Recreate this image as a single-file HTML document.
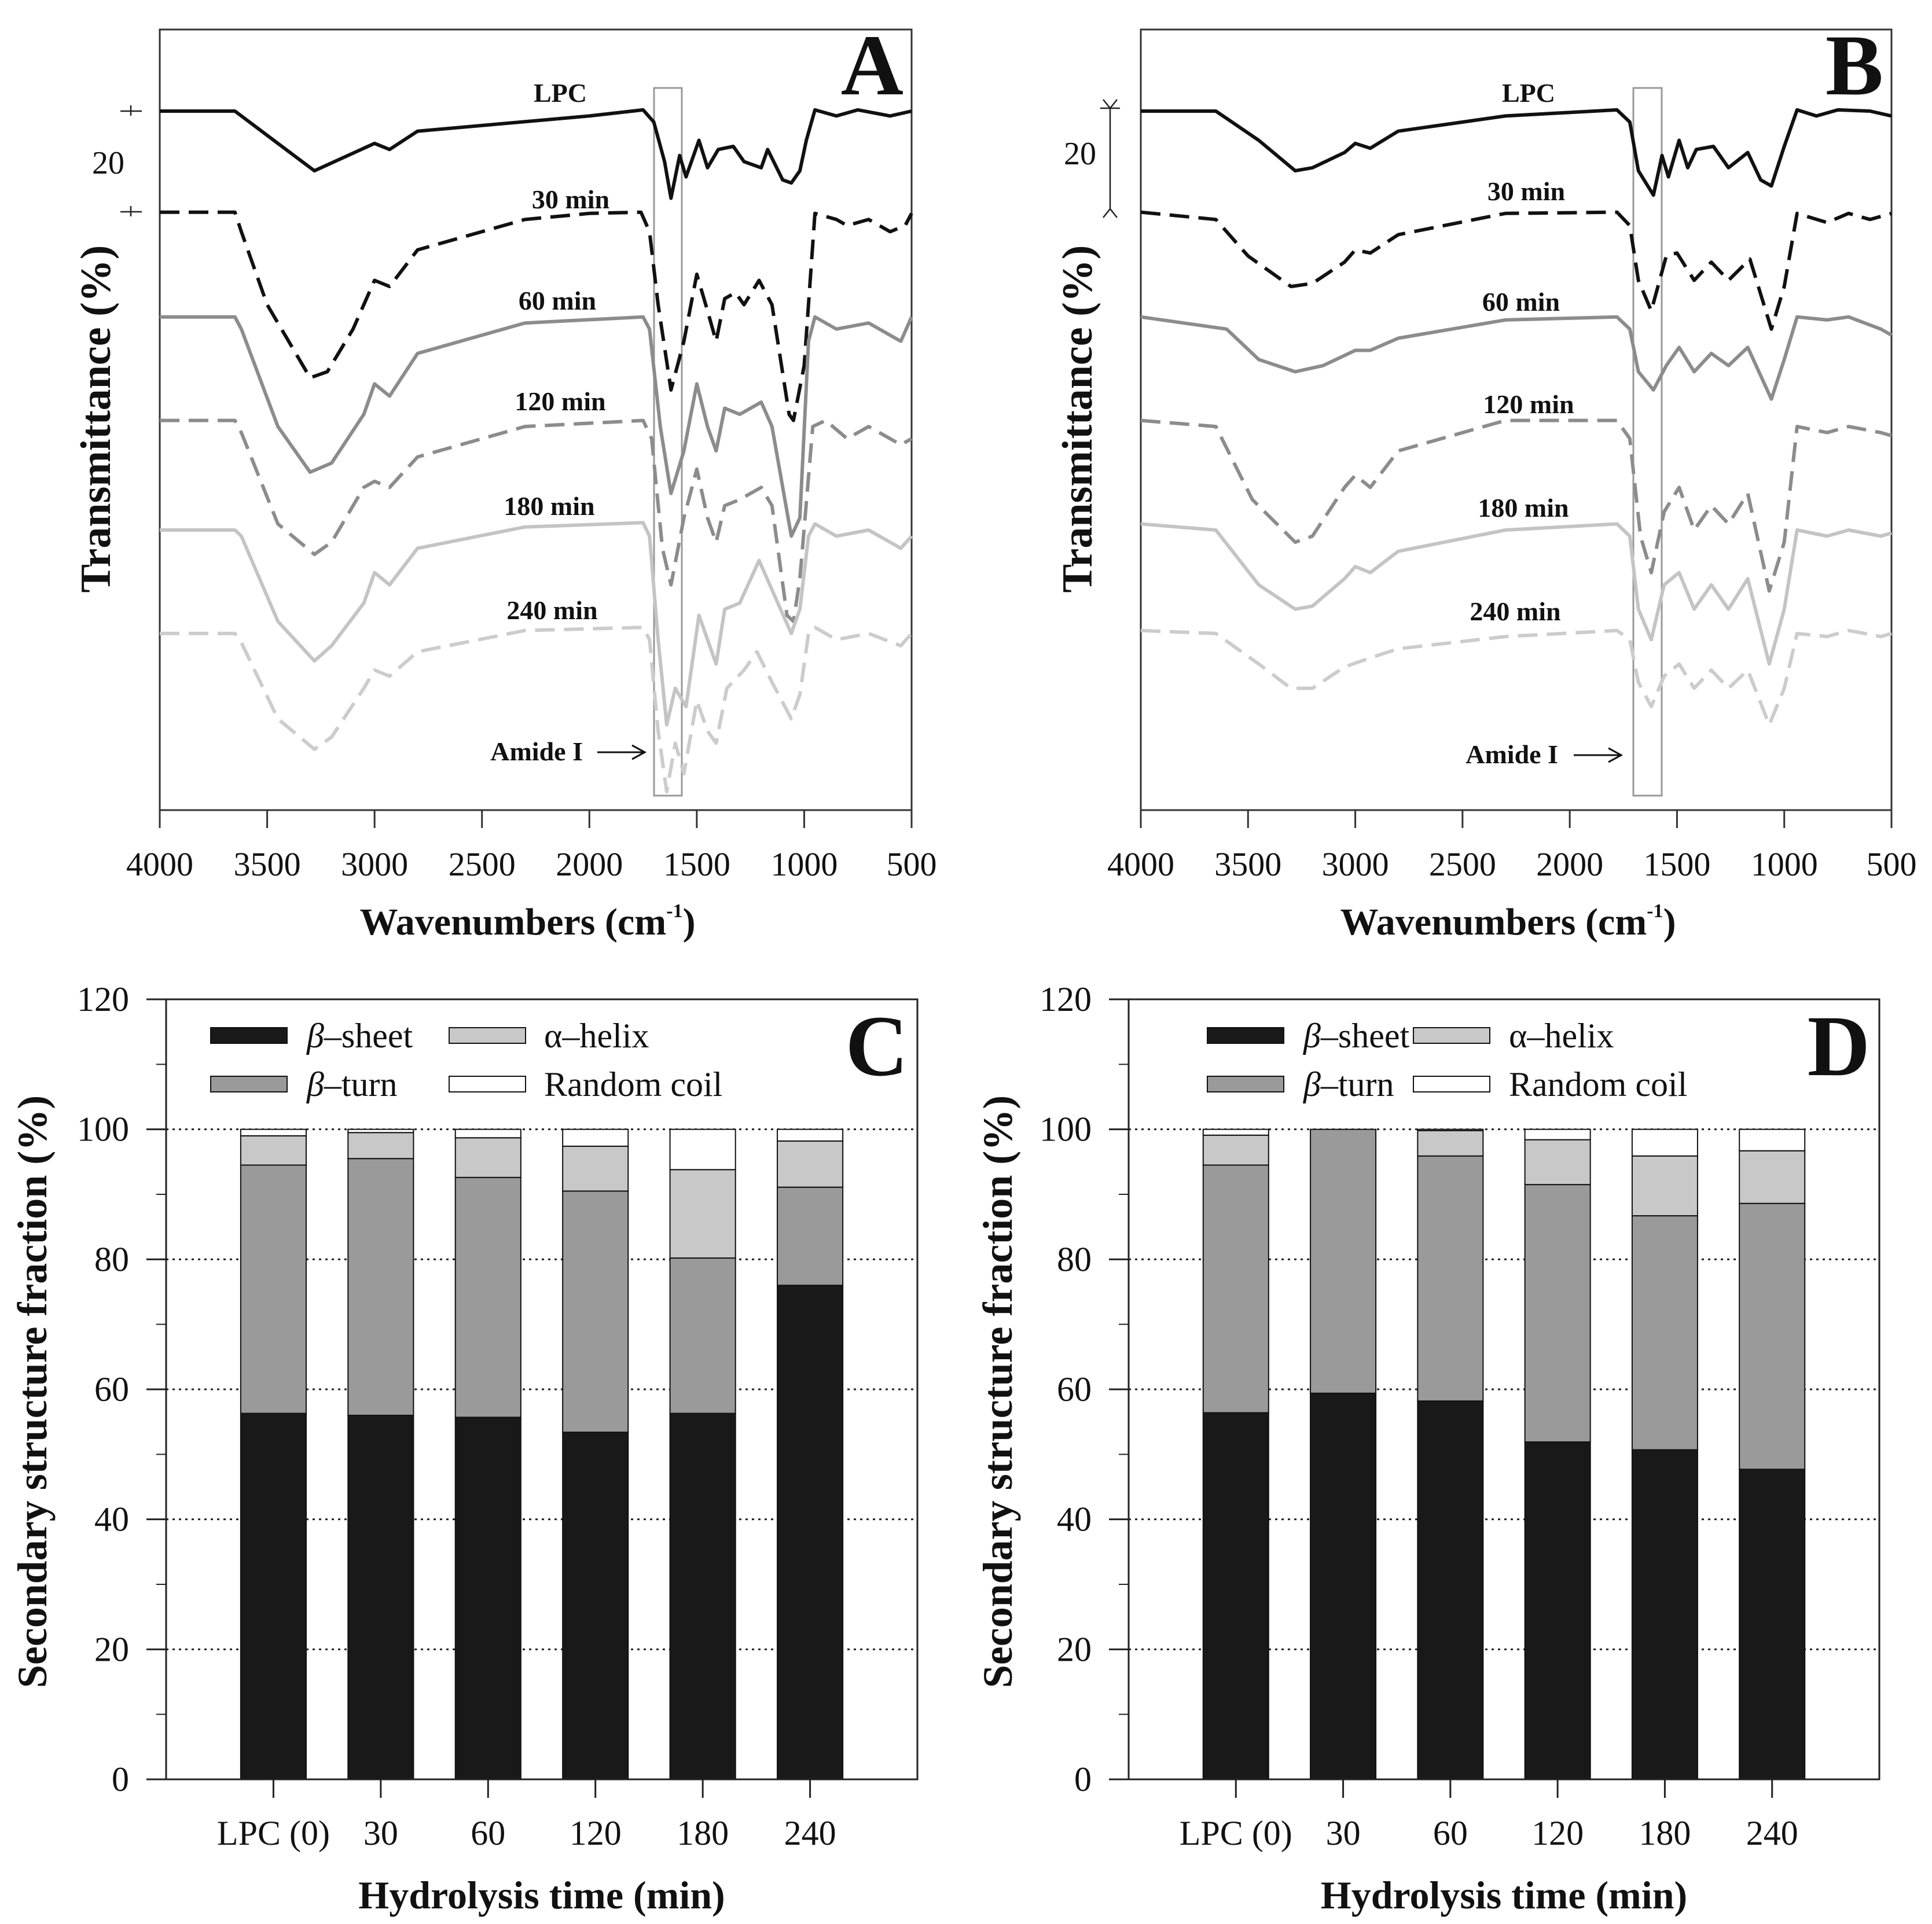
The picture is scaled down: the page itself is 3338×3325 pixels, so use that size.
<!DOCTYPE html>
<html>
<head>
<meta charset="utf-8">
<style>
html,body{margin:0;padding:0;background:#fff;}
svg{display:block;}
svg, text, tspan{font-family:"Liberation Serif","DejaVu Serif",serif;}
text{fill:#111;}
</style>
</head>
<body>
<svg id="fig" width="3338" height="3325" viewBox="0 0 3338 3325" xmlns="http://www.w3.org/2000/svg" font-family="Liberation Serif, serif">
<rect x="0" y="0" width="3338" height="3325" fill="#fff"/>
</svg>
<script>
// ---------- Panel A spectra (wavenumber, transmittance a.u.) ----------
const A_LPC_wn = [4000,3650,3450,3280,3000,2930,2800,2000,1750,1700,1650,1620,1580,1550,1490,1450,1400,1330,1280,1200,1170,1100,1060,1020,990,950,850,750,600,500];
const A_LPC_t  = [1148,1148,1095,1050,1095,1085,1115,1140,1150,1130,1065,1005,1075,1040,1100,1055,1085,1090,1065,1055,1085,1035,1030,1050,1100,1150,1140,1150,1140,1148];
const A_30_wn = [4000,3650,3620,3500,3300,3220,3100,3000,2930,2800,2300,2000,1760,1720,1680,1620,1560,1500,1450,1410,1370,1320,1280,1210,1150,1070,1050,1000,950,850,800,700,600,530,500];
const A_30_t  = [982,982,950,830,710,720,790,870,860,920,970,980,982,950,830,690,770,880,820,770,840,850,830,870,830,650,640,730,980,970,960,970,950,960,980];
const A_60_wn = [4000,3650,3620,3450,3300,3200,3050,3000,2930,2800,2300,1750,1720,1670,1620,1560,1500,1450,1410,1370,1300,1200,1150,1060,1020,980,950,850,700,550,500];
const A_60_t  = [810,810,790,630,555,570,650,700,680,750,800,810,790,630,520,590,700,630,590,660,650,670,630,450,480,770,810,790,800,770,810];
const A_120_wn = [4000,3650,3620,3450,3280,3200,3050,3000,2930,2800,2300,1750,1710,1660,1620,1560,1500,1450,1410,1370,1300,1200,1150,1080,1050,1020,960,900,800,700,550,500];
const A_120_t  = [640,640,620,470,420,440,530,540,530,580,630,640,610,430,370,480,560,480,440,500,510,530,500,320,310,380,630,640,610,630,600,610];
const A_180_wn = [4000,3650,3620,3450,3280,3200,3050,3000,2930,2800,2300,1750,1720,1680,1640,1600,1550,1490,1410,1370,1300,1210,1160,1060,1020,980,950,850,700,550,500];
const A_180_t  = [460,460,450,310,245,270,340,390,370,430,465,472,450,280,140,200,170,320,240,330,340,410,370,290,330,450,470,450,460,430,450];
const A_240_wn = [4000,3650,3620,3450,3280,3200,3050,3000,2930,2800,2300,1750,1720,1680,1640,1600,1560,1500,1450,1410,1360,1280,1220,1150,1060,1020,980,950,850,700,550,500];
const A_240_t  = [290,290,275,150,100,120,200,230,220,260,295,300,280,130,30,110,60,180,130,110,200,230,260,210,150,190,290,300,280,290,270,290];

// ---------- Panel B spectra ----------
const B_LPC_wn = [4000,3650,3450,3280,3200,3050,3000,2930,2800,2300,1780,1720,1680,1610,1570,1540,1490,1450,1410,1330,1260,1170,1110,1060,1000,940,850,750,600,500];
const B_LPC_t  = [1148,1148,1100,1050,1055,1080,1095,1087,1115,1140,1150,1130,1050,1010,1075,1040,1100,1055,1085,1090,1055,1080,1035,1025,1090,1150,1140,1150,1148,1140];
const B_30_wn = [4000,3650,3500,3300,3200,3050,3000,2930,2800,2300,1780,1720,1680,1620,1550,1500,1420,1340,1260,1160,1060,1000,940,800,700,600,500];
const B_30_t  = [982,970,910,860,865,900,920,915,945,980,982,960,870,820,910,915,870,900,870,905,790,860,980,965,980,970,980];
const B_60_wn = [4000,3600,3450,3280,3150,3000,2930,2800,2300,1780,1720,1680,1610,1550,1490,1420,1340,1260,1170,1060,1000,940,800,700,550,500];
const B_60_t  = [810,790,740,720,730,755,755,775,805,810,790,720,690,730,760,720,750,730,760,675,740,810,805,810,790,780];
const B_120_wn = [4000,3650,3480,3280,3200,3050,3000,2930,2800,2300,1780,1720,1670,1620,1560,1490,1420,1340,1260,1170,1070,1000,940,800,700,550,500];
const B_120_t  = [640,630,510,440,450,530,550,530,590,640,640,610,450,390,490,530,460,500,470,520,360,440,630,620,630,620,615];
const B_180_wn = [4000,3650,3450,3280,3200,3050,3000,2930,2800,2300,1780,1720,1680,1620,1560,1490,1420,1340,1260,1170,1070,1000,940,800,700,550,500];
const B_180_t  = [470,460,370,330,335,380,400,390,425,460,470,450,330,280,370,390,330,370,330,380,240,330,460,450,460,450,455];
const B_240_wn = [4000,3650,3450,3300,3200,3050,2930,2800,2300,1780,1720,1680,1620,1560,1490,1420,1340,1260,1170,1070,1000,940,800,700,550,500];
const B_240_t  = [295,290,240,200,200,235,250,265,285,295,280,210,170,220,240,200,230,200,230,140,200,290,285,295,285,290];

const wnTicks = [4000,3500,3000,2500,2000,1500,1000,500];

// ---------- Panels C / D stacked bars ----------
const categories = ["LPC (0)","30","60","120","180","240"];
const C_sheet = [56.3,56.0,55.7,53.4,56.3,76.0];
const C_turn  = [38.2,39.5,36.9,37.1,23.9,15.1];
const C_helix = [4.5,4.0,6.1,6.9,13.6,7.1];
const C_coil  = [1.0,0.5,1.3,2.6,6.2,1.8];
const D_sheet = [56.4,59.4,58.2,51.9,50.7,47.7];
const D_turn  = [38.1,40.6,37.7,39.6,36.0,40.9];
const D_helix = [4.6,0.0,3.9,6.9,9.2,8.1];
const D_coil  = [0.9,0.0,0.2,1.6,4.1,3.3];
const pctTicks = [0,20,40,60,80,100,120];

const NS = "http://www.w3.org/2000/svg";
const svg = document.getElementById("fig");
function mk(tag, attrs, parent){
  const e = document.createElementNS(NS, tag);
  for (const k in attrs) e.setAttribute(k, attrs[k]);
  (parent||svg).appendChild(e);
  return e;
}
function txt(x,y,s,size,opts,parent){
  const e = mk("text",{x:x,y:y,"font-size":size,"font-family":"Liberation Serif, serif","text-anchor":(opts&&opts.anchor)||"middle","font-weight":(opts&&opts.bold)?"bold":"normal"},parent);
  if (opts && opts.transform) e.setAttribute("transform",opts.transform);
  e.textContent = s;
  return e;
}

// ---------- Spectra panels ----------
function spectraPanel(P){
  const g = mk("g",{});
  
  
  const xS = w => P.x0 + (4000 - w) / 3500 * (P.x1 - P.x0);
  const yS = v => P.y1 - v * ((P.y1 - P.y0) / 1282);
  const fr = mk("rect",{x:P.x0,y:P.y0,width:P.x1-P.x0,height:P.y1-P.y0,fill:"none",stroke:"#333","stroke-width":3},g);
  
  
  wnTicks.forEach(w=>{
    const t = mk("line",{x1:xS(w),x2:xS(w),y1:P.y1,y2:P.y1+31,stroke:"#333","stroke-width":3},g);
    
    
    const l = txt(xS(w), P.y1+113, String(w), 58, {}, g);
    
    
  });
  const xt = txt((P.x0+P.x1)/2 - 14, 1615, "Wavenumbers (cm", 66, {bold:true}, g);
  
  
  const ts = mk("tspan",{"font-size":34,dy:-30},xt); ts.textContent="-1";
  const ts2 = mk("tspan",{dy:30},xt); ts2.textContent=")";
  const yt = txt(P.ytx, 724, "Transmittance (%)", 74, {bold:true, transform:"rotate(-90 "+P.ytx+" 724)"}, g);
  
  
  const box = mk("rect",{x:P.boxX0,y:P.y0+101,width:P.boxX1-P.boxX0,height:1223,fill:"none",stroke:"#999","stroke-width":3},g);
  
  
  P.series.forEach(s=>{
    const d = s.wn.map((w,i)=>(i?"L":"M")+xS(w).toFixed(1)+" "+yS(s.t[i]).toFixed(1)).join(" ");
    const p = mk("path",{d:d,fill:"none",stroke:s.color,"stroke-width":6,"stroke-linejoin":"round","stroke-dasharray":s.dash?"34 16":"none"},g);
    
    
    const lb = txt(s.lx, s.ly, s.name, 46, {bold:true}, g);
    
    
  });
  const am = txt(P.amX, P.amY, "Amide I", 46, {bold:true, anchor:"end"}, g);
  
  
  const ar = mk("path",{d:"M"+P.arX0+" "+(P.amY-14)+" L"+P.arX1+" "+(P.amY-14)+" M"+(P.arX1-22)+" "+(P.amY-26)+" L"+P.arX1+" "+(P.amY-14)+" L"+(P.arX1-22)+" "+(P.amY-2),fill:"none",stroke:"#111","stroke-width":3},g);
  
  
  const sb = mk("path",{d:P.scaleD,fill:"none",stroke:"#222","stroke-width":2.5},g);
  
  
  const sl = txt(P.scaleTx, P.scaleTy, "20", 56, {}, g);
  
  
  const pl = txt(P.x1-14, 163, P.letter, 150, {bold:true, anchor:"end"}, g);
  
  
}

spectraPanel({id:"a", letter:"A", x0:276, x1:1575, y0:51, y1:1400, ytx:190,
  boxX0:1130, boxX1:1178, amX:1007, amY:1314, arX0:1032, arX1:1114,
  scaleD:"M208 192 L245 192 M226 182 L226 200 M208 366 L245 366 M226 356 L226 374", scaleTx:187, scaleTy:300,
  series:[
    {name:"LPC", wn:A_LPC_wn, t:A_LPC_t, color:"#111", dash:false, lx:968, ly:176},
    {name:"30 min", wn:A_30_wn, t:A_30_t, color:"#111", dash:true, lx:986, ly:360},
    {name:"60 min", wn:A_60_wn, t:A_60_t, color:"#8c8c8c", dash:false, lx:963, ly:535},
    {name:"120 min", wn:A_120_wn, t:A_120_t, color:"#8c8c8c", dash:true, lx:968, ly:709},
    {name:"180 min", wn:A_180_wn, t:A_180_t, color:"#c4c4c4", dash:false, lx:949, ly:890},
    {name:"240 min", wn:A_240_wn, t:A_240_t, color:"#cccccc", dash:true, lx:954, ly:1070}
  ]});
spectraPanel({id:"b", letter:"B", x0:1971, x1:3268, y0:51, y1:1400, ytx:1886,
  boxX0:2822, boxX1:2871, amX:2692, amY:1319, arX0:2719, arX1:2801,
  scaleD:"M1901 187 L1935 187 M1918 187 L1918 361 M1906 172 L1918 187 L1930 172 M1906 376 L1918 361 L1930 376", scaleTx:1866, scaleTy:284,
  series:[
    {name:"LPC", wn:B_LPC_wn, t:B_LPC_t, color:"#111", dash:false, lx:2641, ly:176},
    {name:"30 min", wn:B_30_wn, t:B_30_t, color:"#111", dash:true, lx:2637, ly:346},
    {name:"60 min", wn:B_60_wn, t:B_60_t, color:"#8c8c8c", dash:false, lx:2628, ly:537},
    {name:"120 min", wn:B_120_wn, t:B_120_t, color:"#8c8c8c", dash:true, lx:2641, ly:714},
    {name:"180 min", wn:B_180_wn, t:B_180_t, color:"#c4c4c4", dash:false, lx:2632, ly:893},
    {name:"240 min", wn:B_240_wn, t:B_240_t, color:"#cccccc", dash:true, lx:2618, ly:1072}
  ]});

// ---------- Bar panels ----------
function barPanel(P){
  const g = mk("g",{});
  
  
  const y0 = 1727, y1 = 3075;
  const yS = v => y1 - v / 120 * (y1 - y0);
  const slot = (P.x1 - P.x0) / 7;
  const xC = i => P.x0 + slot * (i + 1);
  const bw = slot * 0.61;
  [20,40,60,80,100].forEach(v=>{
    const gl = mk("line",{x1:P.x0,x2:P.x1,y1:yS(v),y2:yS(v),stroke:"#222","stroke-width":3,"stroke-dasharray":"4 7"},g);
    
    
  });
  const layers = [
    {vals:P.sheet, fill:"#191919", n:"beta-sheet"},
    {vals:P.turn, fill:"#9a9a9a", n:"beta-turn"},
    {vals:P.helix, fill:"#c8c8c8", n:"alpha-helix"},
    {vals:P.coil, fill:"#ffffff", n:"random-coil"}
  ];
  categories.forEach((c,i)=>{
    let base = 0;
    layers.forEach(L=>{
      const v = L.vals[i];
      if (v > 0){
        const r = mk("rect",{x:xC(i)-bw/2,y:yS(base+v),width:bw,height:yS(base)-yS(base+v),fill:L.fill,stroke:"#111","stroke-width":2},g);
        
        
      }
      base += v;
    });
    const tk = mk("line",{x1:xC(i),x2:xC(i),y1:y1,y2:y1+32,stroke:"#222","stroke-width":3},g);
    
    
    const cl = txt(xC(i), y1+113, c, 60, {}, g);
    
    
  });
  const fr = mk("rect",{x:P.x0,y:y0,width:P.x1-P.x0,height:y1-y0,fill:"none",stroke:"#222","stroke-width":3},g);
  
  
  pctTicks.forEach(v=>{
    const t = mk("line",{x1:P.x0-34,x2:P.x0,y1:yS(v),y2:yS(v),stroke:"#222","stroke-width":3},g);
    
    
    const l = txt(P.x0-64, yS(v)+20, String(v), 60, {anchor:"end"}, g);
    
    
  });
  [10,30,50,70,90,110].forEach(v=>{
    const t = mk("line",{x1:P.x0-17,x2:P.x0,y1:yS(v),y2:yS(v),stroke:"#222","stroke-width":2},g);
    
    
  });
  const yt = txt(P.ytx, 2405, "Secondary structure fraction (%)", 72, {bold:true, transform:"rotate(-90 "+P.ytx+" 2405)"}, g);
  
  
  const xt = txt((P.x0+P.x1)/2 + 0, 3298, "Hydrolysis time (min)", 68, {bold:true}, g);
  
  
  const leg = [
    {fill:"#191919", x:P.lx1, y:1776, label:"sheet", greek:"β", it:true, tx:P.tx1},
    {fill:"#c8c8c8", x:P.lx2, y:1776, label:"helix", greek:"α", it:false, tx:P.tx2},
    {fill:"#9a9a9a", x:P.lx1, y:1860, label:"turn", greek:"β", it:true, tx:P.tx1},
    {fill:"#ffffff", x:P.lx2, y:1860, label:"Random coil", greek:"", it:false, tx:P.tx2}
  ];
  leg.forEach(L=>{
    const sw = mk("rect",{x:L.x,y:L.y,width:132,height:27,fill:L.fill,stroke:"#111","stroke-width":2},g);
    
    
    const t = mk("text",{x:L.tx,y:L.y+34,"font-size":60,"font-family":"Liberation Serif, serif","text-anchor":"start"},g);
    
    
    if (L.greek){
      const a = mk("tspan",{"font-style":L.it?"italic":"normal"},t); a.textContent = L.greek;
      const b = mk("tspan",{},t); b.textContent = "\u2013" + L.label;
    } else { t.textContent = L.label; }
  });
  const pl = txt(P.x1-16, 1858, P.letter, 150, {bold:true, anchor:"end"}, g);
  
  
}

barPanel({id:"c", letter:"C", x0:287, x1:1585, ytx:80, sheet:C_sheet, turn:C_turn, helix:C_helix, coil:C_coil,
  lx1:364, lx2:776, tx1:530, tx2:940});
barPanel({id:"d", letter:"D", x0:1950, x1:3247, ytx:1748, sheet:D_sheet, turn:D_turn, helix:D_helix, coil:D_coil,
  lx1:2086, lx2:2442, tx1:2252, tx2:2607});
</script>
</body>
</html>
